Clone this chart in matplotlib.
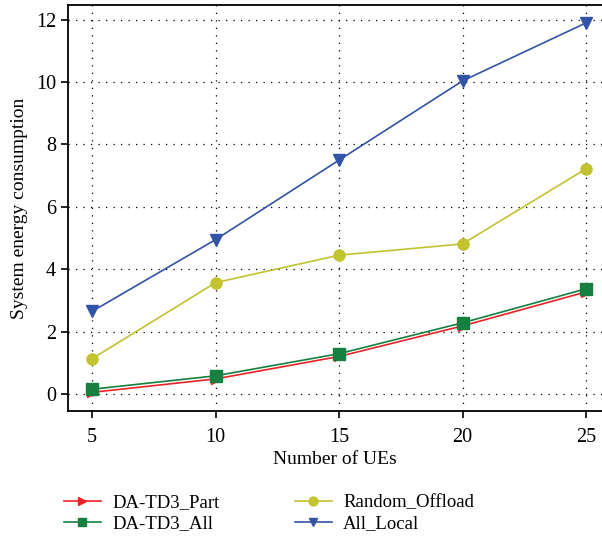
import numpy as np
import matplotlib.pyplot as plt

plt.rcParams['font.family'] = ['Liberation Serif', 'DejaVu Serif']

# number of UEs and system energy consumption for each scheme
num_ues = [5, 10, 15, 20, 25]
da_td3_part = [0.05, 0.48, 1.20, 2.18, 3.27]
da_td3_all = [0.15, 0.58, 1.29, 2.28, 3.37]
random_offload = [1.13, 3.57, 4.45, 4.81, 7.22]
all_local = [2.65, 4.95, 7.50, 10.04, 11.90]

fig = plt.figure(figsize=(6.02, 5.38), dpi=100)
ax = fig.add_axes([0.113, 0.236, 0.887, 0.755])

ax.plot(num_ues, da_td3_part, color='#ec2327', marker='>', markersize=7,
        linewidth=1.2, label='DA-TD3_Part')
ax.plot(num_ues, da_td3_all, color='#168040', marker='s', markersize=8,
        linewidth=1.2, label='DA-TD3_All')
ax.plot(num_ues, random_offload, color='#c2c32f', marker='o', markersize=8,
        linewidth=1.2, label='Random_Offload')
ax.plot(num_ues, all_local, color='#3353a6', marker='v', markersize=8,
        linewidth=1.2, label='All_Local')

ax.set_xlim(4.02, 25.65)
ax.set_ylim(-0.55, 12.48)
ax.set_xticks([5, 10, 15, 20, 25])
ax.set_yticks([0, 2, 4, 6, 8, 10, 12])
ax.grid(True, color='black', linestyle=(0, (1, 5)), linewidth=0.9)
ax.spines['right'].set_visible(False)
for s in ['left', 'bottom', 'top']:
    ax.spines[s].set_linewidth(1.3)
ax.tick_params(direction='out', length=5, width=1.2, labelsize=14.5, top=False)
ax.tick_params(axis='x', pad=7)

ax.set_xlabel('Number of UEs', fontsize=14, labelpad=3)
ax.set_ylabel('System energy consumption', fontsize=14, labelpad=6)

leg = ax.legend(loc='upper left', bbox_to_anchor=(-0.04, -0.163), ncol=2,
                frameon=False, fontsize=13.5, handlelength=2.0,
                columnspacing=4.0, labelspacing=0.2, handletextpad=0.6,
                markerscale=0.8)

fig.savefig('out.png', dpi=100)
